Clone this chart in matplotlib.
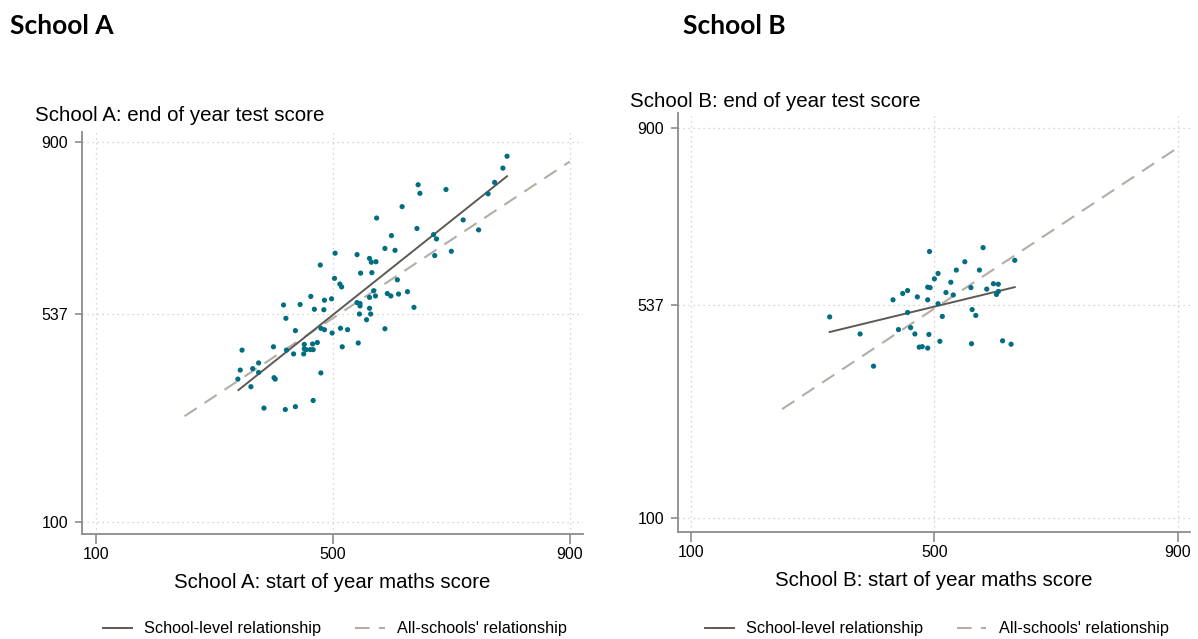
import matplotlib
matplotlib.use("Agg")
import matplotlib.pyplot as plt
from matplotlib.lines import Line2D

plt.rcParams['font.family'] = ['Liberation Sans', 'DejaVu Sans']

# School A: start of year (x) and end of year (y) scores
a_start = [794, 787, 773, 762, 644, 647, 691, 617, 574, 720, 746, 642, 599, 670, 675,
           588, 605, 700, 672, 541, 562, 565, 573, 504, 479, 547, 566, 503, 512, 515,
           609, 569, 562, 572, 592, 598, 611, 626, 463, 486, 498, 417, 445, 469, 485,
           541, 546, 546, 637, 562, 545, 564, 421, 557, 480, 486, 499, 513, 525, 437,
           588, 543, 516, 474, 466, 452, 452, 455, 462, 467, 400, 422, 434, 451, 347,
           375, 365, 344, 375, 480, 340, 401, 403, 362, 467, 384, 420, 437]
a_end = [870, 845, 815, 791, 810, 792, 800, 764, 740, 736, 715, 718, 703, 705, 696,
         676, 672, 670, 661, 663, 655, 647, 648, 666, 641, 624, 625, 613, 601, 595,
         610, 587, 573, 576, 581, 576, 580, 585, 575, 567, 570, 557, 558, 548, 547,
         562, 560, 555, 552, 550, 538, 538, 529, 526, 508, 505, 498, 508, 505, 503,
         507, 477, 469, 478, 475, 474, 465, 463, 463, 463, 469, 462, 454, 454, 462,
         435, 423, 420, 415, 414, 401, 404, 401, 385, 356, 340, 337, 343]

# School B
b_start = [492, 580, 632, 550, 536, 574, 506, 500, 527, 597, 605, 489, 493, 560, 586,
           605, 602, 456, 448, 519, 531, 472, 432, 489, 506, 456, 562, 513, 568, 328,
           441, 461, 378, 468, 491, 509, 561, 612, 626, 475, 480, 489, 400]
b_end = [646, 654, 628, 625, 608, 608, 601, 590, 583, 580, 579, 573, 572, 572, 569,
         564, 558, 566, 560, 562, 557, 553, 547, 547, 539, 521, 527, 513, 515, 512,
         486, 490, 477, 477, 476, 462, 457, 463, 456, 450, 451, 448, 411]

# fitted lines (end points)
a_fit_x = [341, 794]
a_fit_y = [378, 828]
b_fit_x = [328, 632]
b_fit_y = [481, 573]
all_fit_x = [250, 900]
all_fit_y = [323, 859]

x_ticks = [100, 500, 900]
y_ticks = [100, 537, 900]

dot_col = '#006d80'
solid_col = '#5e5954'
dash_col = '#b3ada6'

fig = plt.figure(figsize=(11.98, 6.39), dpi=100)

panels = [
    ('A', a_start, a_end, a_fit_x, a_fit_y,
     [0.0684, 0.1643, 0.4182, 0.6291], (77, 922), (75, 921), 1.018),
    ('B', b_start, b_end, b_fit_x, b_fit_y,
     [0.566, 0.1674, 0.4274, 0.6558], (79, 920), (71, 930), 1.004),
]

for name, xs, ys, fx, fy, rect, xlim, ylim, ty in panels:
    ax = fig.add_axes(rect)
    ax.set_xlim(*xlim)
    ax.set_ylim(*ylim)
    ax.set_xticks(x_ticks)
    ax.set_yticks(y_ticks)
    ax.grid(True, linestyle=(0, (1, 3)), color='#c8c8c8', linewidth=0.9)
    ax.set_axisbelow(True)
    for s in ['top', 'right']:
        ax.spines[s].set_visible(False)
    for s in ['left', 'bottom']:
        ax.spines[s].set_color('#8c8c8c')
        ax.spines[s].set_linewidth(1.3)
    ax.tick_params(axis='x', length=7, width=1.2, color='#8c8c8c', labelsize=11.5, pad=2)
    ax.tick_params(axis='y', length=5, width=1.2, color='#8c8c8c', labelsize=11.5, pad=5)

    ax.plot(all_fit_x, all_fit_y, color=dash_col, linewidth=1.5,
            dashes=(7, 4.5), zorder=2)
    ax.plot(fx, fy, color=solid_col, linewidth=1.4, zorder=3)
    ax.scatter(xs, ys, s=14, color=dot_col, edgecolors='none', zorder=4)

    ax.set_xlabel('School %s: start of year maths score' % name, fontsize=14.7, labelpad=8)
    ax.text(-0.094, ty, 'School %s: end of year test score' % name,
            transform=ax.transAxes, fontsize=14.8, ha='left', va='bottom')

    handles = [Line2D([], [], color=solid_col, linewidth=1.4),
               Line2D([], [], color=dash_col, linewidth=1.5, dashes=(7, 4.5))]
    cx = rect[0] + rect[2] / 2 + 0.002
    fig.legend(handles, ['School-level relationship', "All-schools' relationship"],
               loc='center', bbox_to_anchor=(cx, 1 - 629 / 639), ncol=2,
               frameon=False, fontsize=11.7, handlelength=1.8, handletextpad=0.75,
               columnspacing=2.1)

fig.text(10 / 1198, 1 - 26 / 639, 'School A', fontsize=19, fontweight='bold',
         family=['Lato', 'DejaVu Sans'], va='center', ha='left')
fig.text(683 / 1198, 1 - 26 / 639, 'School B', fontsize=19, fontweight='bold',
         family=['Lato', 'DejaVu Sans'], va='center', ha='left')

fig.savefig('out.png', dpi=100)
